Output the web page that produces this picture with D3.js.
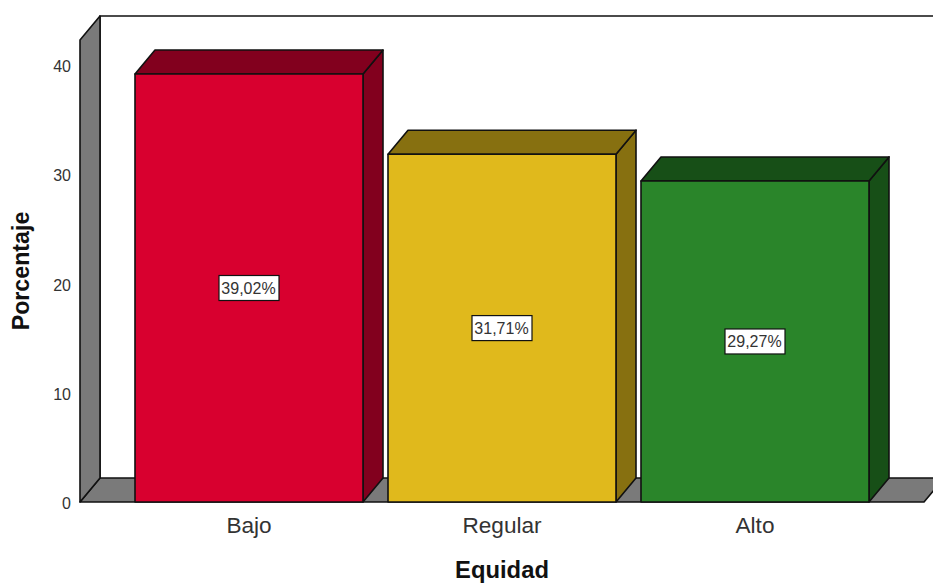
<!DOCTYPE html>
<html>
<head>
<meta charset="utf-8">
<script src="https://cdn.jsdelivr.net/npm/d3@7"></script>
<style>
html,body{margin:0;padding:0;background:#fff}
svg{display:block}
text{font-family:"Liberation Sans",Arial,sans-serif;fill:#333}
text.title{fill:#111;font-weight:bold}
</style>
</head>
<body>
<svg id="chart" width="933" height="583"></svg>
<script>
const categories = ["Bajo", "Regular", "Alto"];
const values = [39.02, 31.71, 29.27];
const valueLabels = ["39,02%", "31,71%", "29,27%"];
const faceColors = ["#d8002f", "#e0b91c", "#2a852a"];
const shadeColors = ["#82001e", "#877010", "#174f17"];
const yTicks = [0, 10, 20, 30, 40];
const wallColor = "#7a7a7a";

const W = 933, H = 583;
const svg = d3.select("#chart");

// Oblique extrusion used by the floor, the wall and every bar
const depth = { x: 20, y: -24 };
const frame = { left: 80, right: 924, base: 502 };

const y = d3.scaleLinear().domain([0, 42.12]).range([frame.base, 40]);
// Baselines of the value axis labels
const tickY = d3.scaleLinear().domain([0, 40]).range([509, 72]);
const x = d3.scaleBand()
  .domain(categories)
  .range([122.5, 881.5])
  .paddingInner(25 / 253)
  .paddingOuter(12.5 / 253);

const line = d3.line();
const poly = (pts, fill) => svg.append("path")
  .attr("d", line(pts) + "Z")
  .attr("fill", fill)
  .attr("stroke", "#111")
  .attr("stroke-width", 1.6)
  .attr("stroke-linejoin", "round");

const yMax = y.domain()[1];

// Back wall outline
svg.append("path")
  .attr("d", line([
    [W + 5, y(yMax) + depth.y],
    [frame.left + depth.x, y(yMax) + depth.y],
    [frame.left + depth.x, y(0) + depth.y]
  ]))
  .attr("fill", "none").attr("stroke", "#111").attr("stroke-width", 1.6);

// Floor and left side wall
poly([
  [frame.left, y(0)],
  [frame.right, y(0)],
  [frame.right + depth.x, y(0) + depth.y],
  [frame.left + depth.x, y(0) + depth.y]
], wallColor);
poly([
  [frame.left, y(0)],
  [frame.left, y(yMax)],
  [frame.left + depth.x, y(yMax) + depth.y],
  [frame.left + depth.x, y(0) + depth.y]
], wallColor);

// Bars: side face, top face, front face
categories.forEach((c, i) => {
  const x0 = x(c), x1 = x0 + x.bandwidth();
  const y0 = y(0), y1 = y(values[i]);
  poly([[x1, y0], [x1, y1], [x1 + depth.x, y1 + depth.y], [x1 + depth.x, y0 + depth.y]], shadeColors[i]);
  poly([[x0, y1], [x1, y1], [x1 + depth.x, y1 + depth.y], [x0 + depth.x, y1 + depth.y]], shadeColors[i]);
  poly([[x0, y0], [x0, y1], [x1, y1], [x1, y0]], faceColors[i]);
});

// Value labels centred on each bar front
const labelW = 60, labelH = 25;
categories.forEach((c, i) => {
  const cx = x(c) + x.bandwidth() / 2;
  const cy = y(values[i] / 2);
  svg.append("rect")
    .attr("x", cx - labelW / 2).attr("y", cy - labelH / 2)
    .attr("width", labelW).attr("height", labelH)
    .attr("fill", "#fff").attr("stroke", "#111").attr("stroke-width", 1.2);
  svg.append("text")
    .attr("x", cx - 0.5).attr("y", cy + 6)
    .attr("text-anchor", "middle")
    .attr("font-size", 16)
    .text(valueLabels[i]);
});

// Axis labels
yTicks.forEach(t => {
  svg.append("text")
    .attr("x", 71).attr("y", tickY(t))
    .attr("text-anchor", "end")
    .attr("font-size", 16)
    .text(t);
});
categories.forEach(c => {
  svg.append("text")
    .attr("x", x(c) + x.bandwidth() / 2).attr("y", 533)
    .attr("text-anchor", "middle")
    .attr("font-size", 22.6)
    .text(c);
});
svg.append("text")
  .attr("class", "title")
  .attr("x", 502).attr("y", 578)
  .attr("text-anchor", "middle")
  .attr("font-size", 23.8)
  .text("Equidad");
svg.append("text")
  .attr("class", "title")
  .attr("transform", "translate(29,271) rotate(-90)")
  .attr("text-anchor", "middle")
  .attr("font-size", 23.2)
  .text("Porcentaje");
</script>
</body>
</html>
